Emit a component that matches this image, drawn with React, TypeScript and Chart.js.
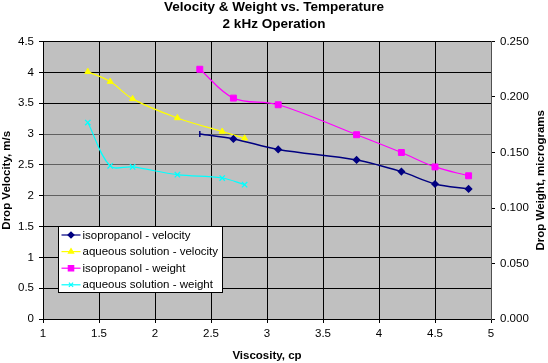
import React, { useEffect, useRef } from 'react';
import { Chart, registerables } from 'chart.js';
import { drawPoint } from 'chart.js/helpers';

Chart.register(...registerables);

const FONT = '"Liberation Sans", Arial, sans-serif';

const titleLines = ['Velocity & Weight vs. Temperature', '2 kHz Operation'];
const xTitle = 'Viscosity, cp';
const yLeftTitle = 'Drop Velocity, m/s';
const yRightTitle = 'Drop Weight, micrograms';

const isoViscosity = [2.4, 2.7, 3.1, 3.8, 4.2, 4.5, 4.8];
const isoVelocity = [3.0, 2.92, 2.75, 2.58, 2.39, 2.19, 2.11];
const isoWeight = [0.225, 0.199, 0.193, 0.166, 0.15, 0.137, 0.129];

const aqViscosity = [1.4, 1.6, 1.8, 2.2, 2.6, 2.8];
const aqVelocity = [4.01, 3.85, 3.57, 3.26, 3.04, 2.93];
const aqWeight = [0.177, 0.138, 0.137, 0.13, 0.127, 0.121];

const seriesLabels = [
  'isopropanol - velocity',
  'aqueous solution - velocity',
  'isopropanol - weight',
  'aqueous solution - weight',
];
const seriesColors = ['#000080', '#FFFF00', '#FF00FF', '#00FFFF'];

const pts = (xs: number[], ys: number[]) => xs.map((x, i) => ({ x, y: ys[i] }));
const fmt = (v: any) => String(Math.round(Number(v) * 10) / 10);

const bgPlugin = {
  id: 'bgPlugin',
  beforeDraw(chart: any) {
    const { ctx, chartArea } = chart;
    ctx.save();
    ctx.fillStyle = '#ffffff';
    ctx.fillRect(0, 0, chart.width, chart.height);
    ctx.fillStyle = '#C0C0C0';
    ctx.fillRect(chartArea.left, chartArea.top, chartArea.right - chartArea.left, chartArea.bottom - chartArea.top);
    ctx.restore();
  },
};

const titlePlugin = {
  id: 'titlePlugin',
  afterDraw(chart: any) {
    const { ctx, chartArea } = chart;
    ctx.save();
    ctx.fillStyle = '#000';
    ctx.font = `bold 13.5px ${FONT}`;
    ctx.textAlign = 'center';
    ctx.textBaseline = 'middle';
    ctx.fillText(titleLines[0], 274, 7.5);
    ctx.fillText(titleLines[1], 274, 24);
    // right axis title, reading bottom-to-top
    ctx.font = `bold 11.5px ${FONT}`;
    ctx.translate(chart.width - 7.5, (chartArea.top + chartArea.bottom) / 2);
    ctx.rotate(-Math.PI / 2);
    ctx.fillText(yRightTitle, 0, 0);
    ctx.restore();
  },
};

const legendPlugin = {
  id: 'insideLegend',
  afterDraw(chart: any) {
    const { ctx, chartArea } = chart;
    const x0 = Math.round(chartArea.left + 15) + 0.5;
    const y0 = Math.round(chartArea.top + 184) + 0.5;
    const w = 164;
    const h = 66;
    ctx.save();
    ctx.fillStyle = '#ffffff';
    ctx.fillRect(x0, y0, w, h);
    ctx.strokeStyle = '#000';
    ctx.lineWidth = 1;
    ctx.strokeRect(x0, y0, w, h);
    chart.data.datasets.forEach((ds: any, i: number) => {
      const y = y0 + 8.5 + i * 16.6;
      ctx.strokeStyle = ds.borderColor;
      ctx.lineWidth = 1.2;
      ctx.beginPath();
      ctx.moveTo(x0 + 3, y);
      ctx.lineTo(x0 + 22, y);
      ctx.stroke();
      ctx.fillStyle = ds.pointBackgroundColor;
      ctx.strokeStyle = ds.pointBorderColor;
      drawPoint(ctx, { pointStyle: ds.legendStyle, rotation: 0, radius: ds.legendRadius, borderWidth: 1 }, x0 + 12.5, y);
      ctx.fillStyle = '#000';
      ctx.font = `11.5px ${FONT}`;
      ctx.textAlign = 'left';
      ctx.textBaseline = 'middle';
      ctx.fillText(ds.label, x0 + 24, y + 0.5);
    });
    ctx.restore();
  },
};

export default function App() {
  const ref = useRef<HTMLCanvasElement>(null);
  useEffect(() => {
    if (!ref.current) return;
    Chart.defaults.color = '#000';
    Chart.defaults.font.family = FONT;
    const chart = new Chart(ref.current, {
      type: 'line',
      data: {
        datasets: [
          {
            label: seriesLabels[0],
            data: pts(isoViscosity, isoVelocity),
            yAxisID: 'y',
            borderColor: seriesColors[0],
            backgroundColor: seriesColors[0],
            pointBackgroundColor: seriesColors[0],
            pointBorderColor: seriesColors[0],
            borderWidth: 1.5,
            pointStyle: (c: any) => (c.dataIndex === 0 ? 'line' : 'rectRot'),
            pointRotation: (c: any) => (c.dataIndex === 0 ? 90 : 0),
            pointRadius: 3,
            pointBorderWidth: 1.5,
            tension: 0.35,
            legendStyle: 'rectRot',
            legendRadius: 3,
          } as any,
          {
            label: seriesLabels[1],
            data: pts(aqViscosity, aqVelocity),
            yAxisID: 'y',
            borderColor: seriesColors[1],
            backgroundColor: seriesColors[1],
            pointBackgroundColor: seriesColors[1],
            pointBorderColor: seriesColors[1],
            borderWidth: 1.2,
            pointStyle: 'triangle',
            pointRadius: 3.5,
            pointBorderWidth: 1,
            tension: 0.35,
            legendStyle: 'triangle',
            legendRadius: 3,
          } as any,
          {
            label: seriesLabels[2],
            data: pts(isoViscosity, isoWeight),
            yAxisID: 'y2',
            borderColor: seriesColors[2],
            backgroundColor: seriesColors[2],
            pointBackgroundColor: seriesColors[2],
            pointBorderColor: seriesColors[2],
            borderWidth: 1.2,
            pointStyle: 'rect',
            pointRadius: 4.2,
            pointBorderWidth: 1,
            tension: 0.35,
            legendStyle: 'rect',
            legendRadius: 3.8,
          } as any,
          {
            label: seriesLabels[3],
            data: pts(aqViscosity, aqWeight),
            yAxisID: 'y2',
            borderColor: seriesColors[3],
            backgroundColor: seriesColors[3],
            pointBackgroundColor: seriesColors[3],
            pointBorderColor: seriesColors[3],
            borderWidth: 1.2,
            pointStyle: 'crossRot',
            pointRadius: 3.8,
            pointBorderWidth: 1.3,
            tension: 0.35,
            legendStyle: 'crossRot',
            legendRadius: 3,
          } as any,
        ],
      },
      options: {
        responsive: false,
        animation: false,
        devicePixelRatio: 1,
        layout: { padding: { top: 41.5, left: 0, right: 0, bottom: 0 } },
        plugins: {
          legend: { display: false },
          title: { display: false },
          tooltip: { enabled: false },
        },
        scales: {
          x: {
            type: 'linear',
            min: 1,
            max: 5,
            ticks: {
              stepSize: 0.5,
              padding: 4,
              maxRotation: 0,
              font: { size: 11.5 },
              color: '#000',
              callback: fmt,
            },
            grid: {
              color: (c: any) => (c.tick && c.tick.value === 5 ? 'rgba(0,0,0,0)' : '#000'),
              tickColor: '#000',
              tickLength: 4,
              lineWidth: 1,
            },
            border: { color: '#000', width: 1 },
            title: {
              display: true,
              text: xTitle,
              font: { size: 11.5, weight: 'bold' },
              padding: { top: 0, bottom: 0 },
              color: '#000',
            },
            afterFit: (s: any) => {
              s.height = 44;
            },
          },
          y: {
            type: 'linear',
            position: 'left',
            min: 0,
            max: 4.5,
            ticks: {
              stepSize: 0.5,
              padding: 5,
              font: { size: 11.5 },
              color: '#000',
              callback: fmt,
            },
            grid: {
              color: (c: any) => {
                const v = c.tick ? c.tick.value : 0;
                return v === 2 || v === 2.5 || v === 3 ? '#606060' : '#000';
              },
              tickColor: '#000',
              tickLength: 4,
              lineWidth: 1,
            },
            border: { color: '#000', width: 1 },
            title: {
              display: true,
              text: yLeftTitle,
              font: { size: 11.5, weight: 'bold' },
              padding: { top: 0, bottom: 0 },
              color: '#000',
            },
            afterFit: (s: any) => {
              s.width = 43;
            },
          },
          y2: {
            type: 'linear',
            position: 'right',
            min: 0,
            max: 0.25,
            ticks: {
              stepSize: 0.05,
              padding: 5,
              font: { size: 11.5 },
              color: '#000',
              callback: (v: any) => Number(v).toFixed(3),
            },
            grid: {
              drawOnChartArea: false,
              tickColor: '#000',
              tickLength: 4,
              lineWidth: 1,
            },
            border: { color: '#505050', width: 1 },
            title: { display: false },
            afterFit: (s: any) => {
              s.width = 57;
            },
          },
        },
      } as any,
      plugins: [bgPlugin, titlePlugin, legendPlugin],
    });
    return () => chart.destroy();
  }, []);
  return (
    <div style={{ position: 'fixed', left: 0, top: 0, width: 548, height: 363, background: '#fff' }}>
      <canvas ref={ref} width={548} height={363} style={{ display: 'block', width: 548, height: 363 }} />
    </div>
  );
}
